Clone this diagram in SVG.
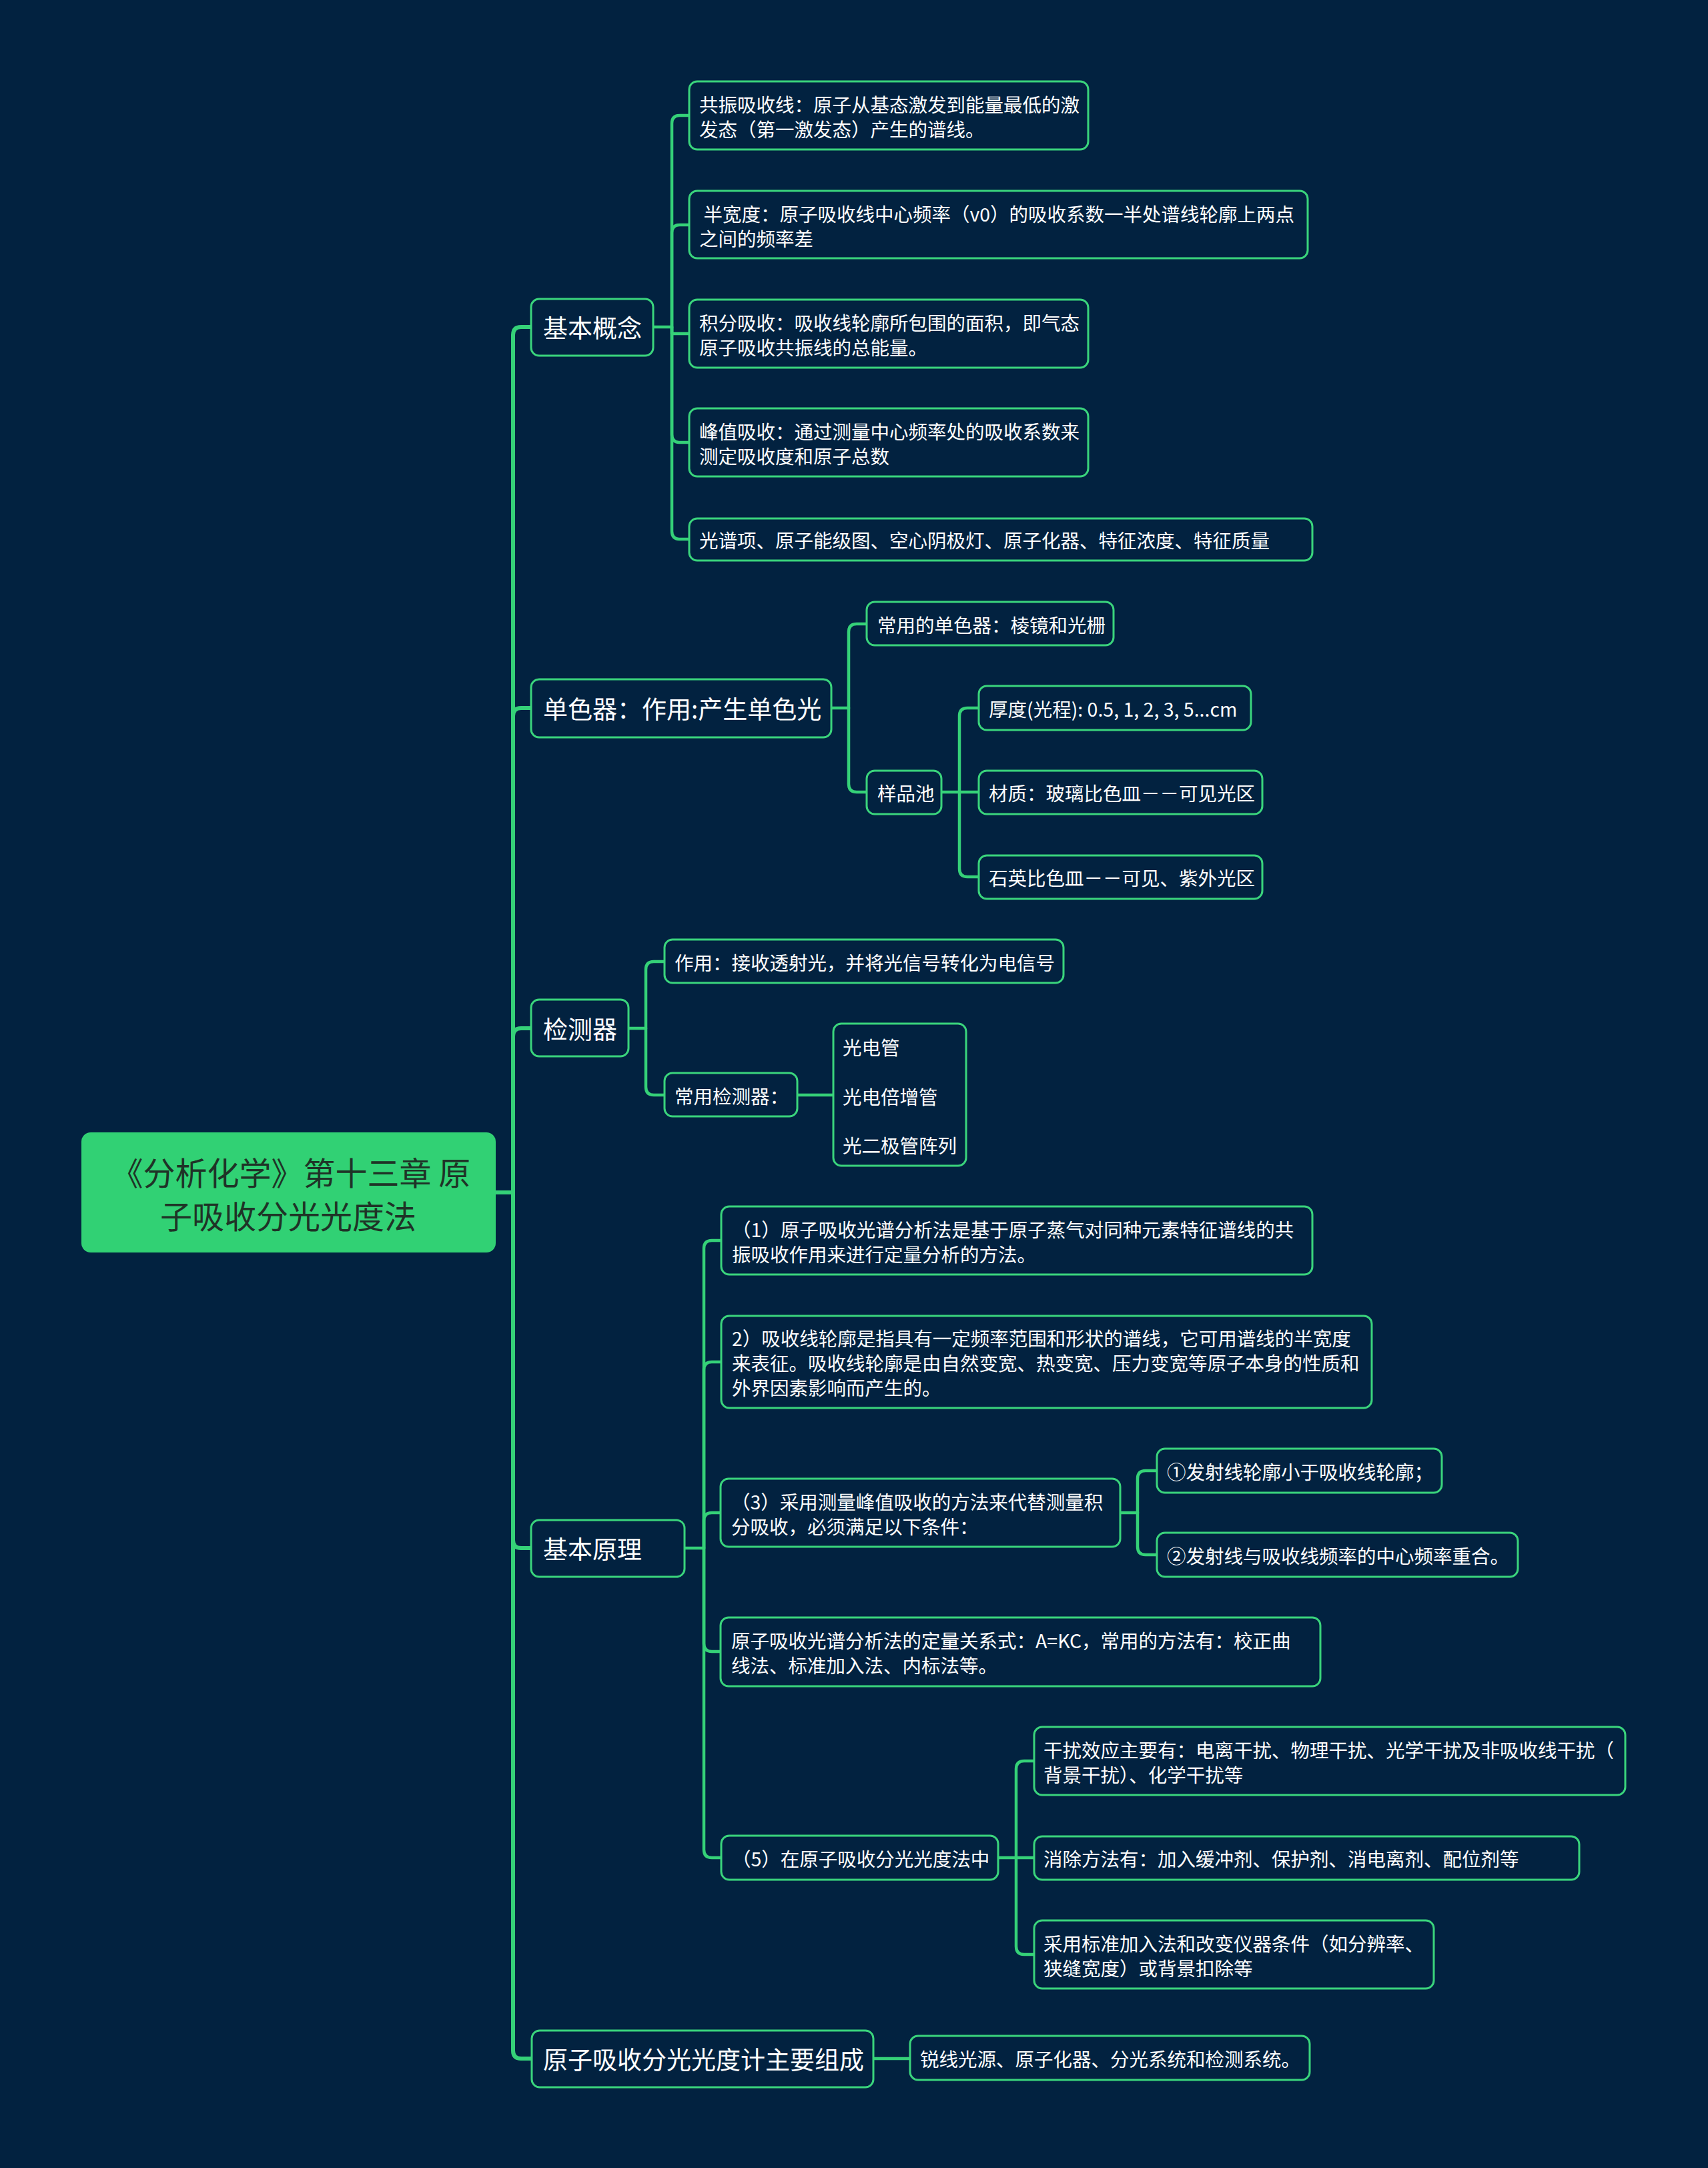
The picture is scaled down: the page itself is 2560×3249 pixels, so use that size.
<svg xmlns="http://www.w3.org/2000/svg" width="2560" height="3249" viewBox="0 0 2560 3249">
<defs>
<style>
.bg{fill:#022240}
.node rect{fill:#022240;stroke:#3ad47c;stroke-width:3}
.root rect{fill:#31d174;stroke:none}
text{font-family:"Noto Sans CJK SC","Noto Sans",sans-serif;fill:#ffffff;dominant-baseline:central}
.t1{font-size:37px}
.t2{font-size:28.5px}
.tr{font-size:48px;fill:#1f3327;text-anchor:middle}
.c0{fill:none;stroke:#35d178;stroke-width:6;stroke-linecap:round;stroke-linejoin:round}
.c1{fill:none;stroke:#35d178;stroke-width:4.5;stroke-linecap:round;stroke-linejoin:round}
</style>
</defs>
<rect class="bg" x="0" y="0" width="2560" height="3249"/>

<g id="connectors">
<g class="c0">
<path d="M743 1787 H769"/>
<path d="M769 1787 V502 Q769 490 781 490 H796"/>
<path d="M769 1787 V1073 Q769 1061 781 1061 H796"/>
<path d="M769 1787 V1553 Q769 1541 781 1541 H796"/>
<path d="M769 1787 V2308 Q769 2320 781 2320 H796"/>
<path d="M769 1787 V3073 Q769 3085 781 3085 H797"/>
</g>
<g class="c1">
<path d="M979 490 H1007"/>
<path d="M1007 490 V185 Q1007 173 1019 173 H1033"/>
<path d="M1007 490 V349 Q1007 337 1019 337 H1033"/>
<path d="M1007 490 V500 H1033"/>
<path d="M1007 490 V651 Q1007 663 1019 663 H1033"/>
<path d="M1007 490 V796 Q1007 808 1019 808 H1033"/>

<path d="M1246 1061 H1272"/>
<path d="M1272 1061 V947 Q1272 935 1284 935 H1299"/>
<path d="M1272 1061 V1175 Q1272 1187 1284 1187 H1299"/>

<path d="M1411 1187 H1438"/>
<path d="M1438 1187 V1073 Q1438 1061 1450 1061 H1467"/>
<path d="M1438 1187 H1467"/>
<path d="M1438 1187 V1302 Q1438 1314 1450 1314 H1467"/>

<path d="M942 1541 H968"/>
<path d="M968 1541 V1453 Q968 1441 980 1441 H996"/>
<path d="M968 1541 V1629 Q968 1641 980 1641 H996"/>
<path d="M1195 1641 H1249"/>

<path d="M1026 2320 H1055"/>
<path d="M1055 2320 V1871 Q1055 1859 1067 1859 H1081"/>
<path d="M1055 2320 V2053 Q1055 2041 1067 2041 H1081"/>
<path d="M1055 2320 V2279 Q1055 2267 1067 2267 H1080"/>
<path d="M1055 2320 V2463 Q1055 2475 1067 2475 H1080"/>
<path d="M1055 2320 V2772 Q1055 2784 1067 2784 H1081"/>

<path d="M1679 2267 H1705"/>
<path d="M1705 2267 V2216 Q1705 2204 1717 2204 H1734"/>
<path d="M1705 2267 V2318 Q1705 2330 1717 2330 H1734"/>

<path d="M1496 2784 H1523"/>
<path d="M1523 2784 V2651 Q1523 2639 1535 2639 H1550"/>
<path d="M1523 2784 H1550"/>
<path d="M1523 2784 V2917 Q1523 2929 1535 2929 H1550"/>

<path d="M1309 3085 H1364"/>
</g>
</g>

<g id="root" class="root">
<rect x="122" y="1697" width="621" height="180" rx="14"/>
<text class="tr" x="436" y="1755">《分析化学》第十三章 原</text>
<text class="tr" x="432" y="1820">子吸收分光光度法</text>
</g>

<g id="n1" class="node"><rect x="796" y="448" width="183" height="85" rx="12"/><text class="t1" x="814" y="490">基本概念</text></g>
<g id="n2" class="node"><rect x="796" y="1018" width="450" height="87" rx="12"/><text class="t1" x="814" y="1061">单色器：作用:产生单色光</text></g>
<g id="n3" class="node"><rect x="796" y="1498" width="146" height="85" rx="12"/><text class="t1" x="814" y="1541">检测器</text></g>
<g id="n4" class="node"><rect x="796" y="2278" width="230" height="85" rx="12"/><text class="t1" x="814" y="2320">基本原理</text></g>
<g id="n5" class="node"><rect x="797" y="3043" width="512" height="85" rx="12"/><text class="t1" x="814" y="3085">原子吸收分光光度计主要组成</text></g>

<g id="a1" class="node"><rect x="1033" y="122" width="598" height="102" rx="12"/><text class="t2" x="1048" y="155">共振吸收线：原子从基态激发到能量最低的激</text><text class="t2" x="1048" y="192">发态（第一激发态）产生的谱线。</text></g>
<g id="a2" class="node"><rect x="1033" y="286" width="927" height="101" rx="12"/><text class="t2" x="1048" y="319" xml:space="preserve"> 半宽度：原子吸收线中心频率（v0）的吸收系数一半处谱线轮廓上两点</text><text class="t2" x="1048" y="356">之间的频率差</text></g>
<g id="a3" class="node"><rect x="1033" y="449" width="598" height="102" rx="12"/><text class="t2" x="1048" y="482">积分吸收：吸收线轮廓所包围的面积，即气态</text><text class="t2" x="1048" y="519">原子吸收共振线的总能量。</text></g>
<g id="a4" class="node"><rect x="1033" y="612" width="598" height="102" rx="12"/><text class="t2" x="1048" y="645">峰值吸收：通过测量中心频率处的吸收系数来</text><text class="t2" x="1048" y="682">测定吸收度和原子总数</text></g>
<g id="a5" class="node"><rect x="1033" y="777" width="934" height="63" rx="12"/><text class="t2" x="1048" y="808">光谱项、原子能级图、空心阴极灯、原子化器、特征浓度、特征质量</text></g>

<g id="b1" class="node"><rect x="1299" y="902" width="370" height="65" rx="12"/><text class="t2" x="1315" y="935">常用的单色器：棱镜和光栅</text></g>
<g id="b2" class="node"><rect x="1299" y="1155" width="112" height="65" rx="12"/><text class="t2" x="1315" y="1187">样品池</text></g>
<g id="b3" class="node"><rect x="1467" y="1028" width="408" height="66" rx="12"/><text class="t2" x="1482" y="1061">厚度(光程): 0.5, 1, 2, 3, 5...cm</text></g>
<g id="b4" class="node"><rect x="1467" y="1155" width="425" height="65" rx="12"/><text class="t2" x="1482" y="1187">材质：玻璃比色皿－－可见光区</text></g>
<g id="b5" class="node"><rect x="1467" y="1282" width="425" height="65" rx="12"/><text class="t2" x="1482" y="1314">石英比色皿－－可见、紫外光区</text></g>

<g id="c1" class="node"><rect x="996" y="1408" width="598" height="65" rx="12"/><text class="t2" x="1011" y="1441">作用：接收透射光，并将光信号转化为电信号</text></g>
<g id="c2" class="node"><rect x="996" y="1608" width="199" height="65" rx="12"/><text class="t2" x="1011" y="1641">常用检测器：</text></g>
<g id="c3" class="node"><rect x="1249" y="1534" width="199" height="213" rx="12"/><text class="t2" x="1263" y="1568">光电管</text><text class="t2" x="1263" y="1642">光电倍增管</text><text class="t2" x="1263" y="1715">光二极管阵列</text></g>

<g id="d1" class="node"><rect x="1081" y="1808" width="886" height="102" rx="12"/><text class="t2" x="1097" y="1841">（1）原子吸收光谱分析法是基于原子蒸气对同种元素特征谱线的共</text><text class="t2" x="1097" y="1878">振吸收作用来进行定量分析的方法。</text></g>
<g id="d2" class="node"><rect x="1081" y="1972" width="975" height="138" rx="12"/><text class="t2" x="1097" y="2004">2）吸收线轮廓是指具有一定频率范围和形状的谱线，它可用谱线的半宽度</text><text class="t2" x="1097" y="2041">来表征。吸收线轮廓是由自然变宽、热变宽、压力变宽等原子本身的性质和</text><text class="t2" x="1097" y="2078">外界因素影响而产生的。</text></g>
<g id="d3" class="node"><rect x="1080" y="2216" width="599" height="102" rx="12"/><text class="t2" x="1096" y="2249">（3）采用测量峰值吸收的方法来代替测量积</text><text class="t2" x="1096" y="2286">分吸收，必须满足以下条件：</text></g>
<g id="d3a" class="node"><rect x="1734" y="2171" width="427" height="66" rx="12"/><text class="t2" x="1749" y="2204">①发射线轮廓小于吸收线轮廓；</text></g>
<g id="d3b" class="node"><rect x="1734" y="2297" width="541" height="66" rx="12"/><text class="t2" x="1749" y="2330">②发射线与吸收线频率的中心频率重合。</text></g>
<g id="d4" class="node"><rect x="1080" y="2424" width="899" height="103" rx="12"/><text class="t2" x="1096" y="2457">原子吸收光谱分析法的定量关系式：A=KC，常用的方法有：校正曲</text><text class="t2" x="1096" y="2494">线法、标准加入法、内标法等。</text></g>
<g id="d5" class="node"><rect x="1081" y="2751" width="415" height="66" rx="12"/><text class="t2" x="1097" y="2784">（5）在原子吸收分光光度法中</text></g>
<g id="d5a" class="node"><rect x="1550" y="2588" width="886" height="102" rx="12"/><text class="t2" x="1564" y="2621">干扰效应主要有：电离干扰、物理干扰、光学干扰及非吸收线干扰（</text><text class="t2" x="1564" y="2658">背景干扰）、化学干扰等</text></g>
<g id="d5b" class="node"><rect x="1550" y="2752" width="817" height="65" rx="12"/><text class="t2" x="1564" y="2784">消除方法有：加入缓冲剂、保护剂、消电离剂、配位剂等</text></g>
<g id="d5c" class="node"><rect x="1550" y="2878" width="599" height="102" rx="12"/><text class="t2" x="1564" y="2911">采用标准加入法和改变仪器条件（如分辨率、</text><text class="t2" x="1564" y="2948">狭缝宽度）或背景扣除等</text></g>

<g id="e1" class="node"><rect x="1364" y="3051" width="599" height="66" rx="12"/><text class="t2" x="1379" y="3084">锐线光源、原子化器、分光系统和检测系统。</text></g>
</svg>
